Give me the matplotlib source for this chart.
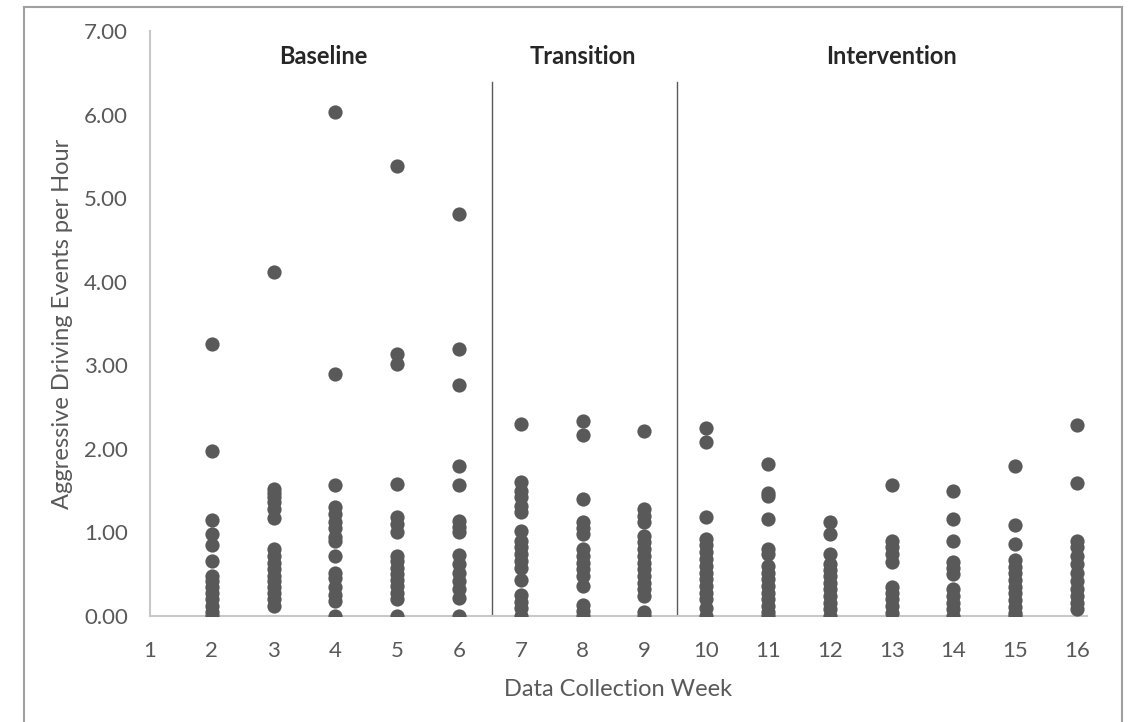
import matplotlib.pyplot as plt
from matplotlib.lines import Line2D
from matplotlib.ticker import FormatStrFormatter

plt.rcParams['font.family'] = ['Lato', 'DejaVu Sans']

# aggressive driving events per hour, one list per data collection week
week2 = [3.25, 1.97, 1.15, 0.98, 0.85, 0.66, 0.48, 0.42, 0.35, 0.28, 0.20, 0.12, 0.05, 0.0]
week3 = [4.12, 1.52, 1.47, 1.42, 1.36, 1.28, 1.17, 0.80, 0.72, 0.64, 0.56, 0.48, 0.42, 0.35,
         0.28, 0.20, 0.12]
week4 = [6.03, 2.90, 1.57, 1.30, 1.22, 1.12, 1.05, 0.95, 0.90, 0.72, 0.52, 0.45, 0.35, 0.25,
         0.18, 0.0]
week5 = [5.38, 3.14, 3.02, 1.58, 1.18, 1.10, 1.00, 0.72, 0.66, 0.58, 0.50, 0.43, 0.36, 0.28,
         0.20, 0.0]
week6 = [4.81, 3.19, 2.76, 1.80, 1.57, 1.14, 1.06, 1.00, 0.73, 0.62, 0.52, 0.42, 0.32, 0.22, 0.0]
week7 = [2.30, 1.60, 1.50, 1.42, 1.32, 1.24, 1.02, 0.90, 0.82, 0.74, 0.66, 0.58, 0.43, 0.25,
         0.17, 0.09, 0.0]
week8 = [2.33, 2.17, 1.40, 1.12, 1.05, 0.98, 0.80, 0.72, 0.64, 0.56, 0.48, 0.36, 0.13, 0.06, 0.0]
week9 = [2.21, 1.28, 1.20, 1.12, 0.96, 0.88, 0.80, 0.72, 0.64, 0.56, 0.48, 0.40, 0.32, 0.24,
         0.05, 0.0]
week10 = [2.25, 2.08, 1.18, 0.92, 0.85, 0.76, 0.68, 0.60, 0.52, 0.44, 0.36, 0.28, 0.20, 0.10, 0.0]
week11 = [1.82, 1.47, 1.43, 1.16, 0.80, 0.74, 0.60, 0.52, 0.44, 0.36, 0.28, 0.20, 0.12, 0.05, 0.0]
week12 = [1.12, 0.98, 0.74, 0.62, 0.55, 0.48, 0.40, 0.32, 0.24, 0.16, 0.08, 0.0]
week13 = [1.57, 0.90, 0.82, 0.74, 0.65, 0.35, 0.28, 0.20, 0.12, 0.04]
week14 = [1.50, 1.16, 0.90, 0.65, 0.58, 0.50, 0.32, 0.24, 0.16, 0.08, 0.0]
week15 = [1.80, 1.09, 0.86, 0.67, 0.59, 0.51, 0.43, 0.35, 0.27, 0.19, 0.11, 0.04, 0.0]
week16 = [2.28, 1.59, 0.90, 0.82, 0.72, 0.62, 0.52, 0.42, 0.32, 0.24, 0.16, 0.08]

weeks = list(range(2, 17))
rates = [week2, week3, week4, week5, week6, week7, week8, week9, week10,
         week11, week12, week13, week14, week15, week16]

phase_names = ["Baseline", "Transition", "Intervention"]
phase_centers = [3.8, 8.0, 13.0]
phase_breaks = [6.53, 9.53]

fig = plt.figure(figsize=(11.28, 7.22), dpi=100)
ax = fig.add_axes([150 / 1128, 1 - 616 / 722, 937 / 1128, 585 / 722])

for w, vals in zip(weeks, rates):
    ax.scatter([w] * len(vals), vals, s=105, color="#595959", linewidths=0, zorder=3)

for xb in phase_breaks:
    ax.plot([xb, xb], [0, 6.39], color="#595959", lw=1.0, zorder=2)

for name, xc in zip(phase_names, phase_centers):
    ax.text(xc, 6.69, name, ha="center", va="center", fontsize=17, fontweight="bold",
            color="#262626")

ax.set_xlim(1, 16.16)
ax.set_ylim(0, 7)
ax.set_xticks(range(1, 17))
ax.set_yticks(range(0, 8))
ax.yaxis.set_major_formatter(FormatStrFormatter("%.2f"))
ax.tick_params(length=0, labelsize=16, labelcolor="#595959")
ax.tick_params(axis="y", pad=16)
ax.tick_params(axis="x", pad=18)

for side in ["top", "right"]:
    ax.spines[side].set_visible(False)
for side in ["left", "bottom"]:
    ax.spines[side].set_color("#c8c8c8")
    ax.spines[side].set_linewidth(1.5)

ax.set_xlabel("Data Collection Week", fontsize=17, color="#595959", labelpad=13)
ax.set_ylabel("Aggressive Driving Events per Hour", fontsize=17, color="#595959", labelpad=8)

# outer chart frame (open at the bottom, as in the screenshot)
frame = dict(color="#a0a0a0", lw=1.5, transform=fig.transFigure)
fig.add_artist(Line2D([24 / 1128, 24 / 1128], [0, 1 - 7 / 722], **frame))
fig.add_artist(Line2D([24 / 1128, 1122 / 1128], [1 - 7 / 722, 1 - 7 / 722], **frame))
fig.add_artist(Line2D([1122 / 1128, 1122 / 1128], [0, 1 - 7 / 722], **frame))

fig.savefig("out.png", dpi=100)
